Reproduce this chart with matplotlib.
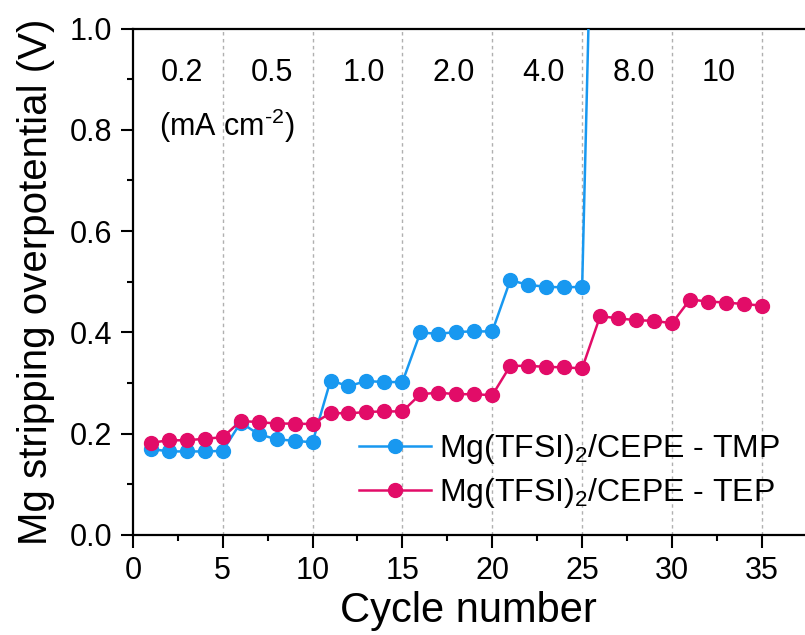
import numpy as np
import matplotlib
matplotlib.use("Agg")
import matplotlib.pyplot as plt
from matplotlib.ticker import MultipleLocator

plt.rcParams['font.family'] = ['Liberation Sans', 'DejaVu Sans']
plt.rcParams['mathtext.fontset'] = 'custom'
plt.rcParams['mathtext.rm'] = 'Liberation Sans'
plt.rcParams['mathtext.it'] = 'Liberation Sans:italic'
plt.rcParams['mathtext.bf'] = 'Liberation Sans:bold'

# stripping overpotential per cycle (V)
cycles_tmp = np.arange(1, 27)
tmp = [0.170, 0.165, 0.165, 0.165, 0.166,
       0.222, 0.199, 0.189, 0.186, 0.183,
       0.305, 0.294, 0.304, 0.302, 0.302,
       0.400, 0.397, 0.401, 0.402, 0.402,
       0.503, 0.494, 0.490, 0.489, 0.490,
       1.950]

cycles_tep = np.arange(1, 36)
tep = [0.182, 0.187, 0.187, 0.190, 0.193,
       0.225, 0.223, 0.220, 0.220, 0.219,
       0.241, 0.240, 0.243, 0.244, 0.244,
       0.278, 0.281, 0.278, 0.278, 0.276,
       0.334, 0.334, 0.332, 0.331, 0.329,
       0.432, 0.428, 0.424, 0.423, 0.418,
       0.465, 0.461, 0.459, 0.456, 0.453]

# current density of each 5-cycle step (mA cm-2)
densities = ['0.2', '0.5', '1.0', '2.0', '4.0', '8.0', '10']
density_x = [2.75, 7.75, 12.85, 17.85, 22.85, 27.9, 32.6]
step_edges = [5, 10, 15, 20, 25, 30, 35]

blue = '#1898F0'
pink = '#E20C68'

fig = plt.figure(figsize=(8.05, 6.35), dpi=100)
ax = fig.add_axes([0.165, 0.1575, 0.835, 0.7975])

for xe in step_edges:
    ax.axvline(xe, color='#b0b0b0', lw=1.0, ls=(0, (2.5, 2.5)), zorder=0)

ax.plot(cycles_tmp, tmp, '-o', color=blue, lw=1.8, ms=10,
        label='Mg(TFSI)$_{\\mathregular{2}}$/CEPE - TMP', zorder=3)
ax.plot(cycles_tep, tep, '-o', color=pink, lw=1.8, ms=10,
        label='Mg(TFSI)$_{\\mathregular{2}}$/CEPE - TEP', zorder=4)

for lab, xp in zip(densities, density_x):
    ax.text(xp, 0.912, lab, ha='center', va='center', fontsize=22)
ax.text(1.45, 0.808, '(mA cm$^{\\text{-2}}$)', ha='left', va='center', fontsize=22)

ax.set_xlim(0, 37.4)
ax.set_ylim(0, 1.0)
ax.xaxis.set_major_locator(MultipleLocator(5))
ax.xaxis.set_minor_locator(MultipleLocator(2.5))
ax.yaxis.set_major_locator(MultipleLocator(0.2))
ax.yaxis.set_minor_locator(MultipleLocator(0.1))
ax.set_xticks(np.arange(0, 36, 5))
ax.yaxis.set_major_formatter(plt.FuncFormatter(lambda v, p: f'{v:.1f}'))

ax.tick_params(which='major', direction='out', length=9, width=1.5, labelsize=22, pad=6)
ax.tick_params(which='minor', direction='out', length=4.5, width=1.5)
for side in ['left', 'bottom', 'top']:
    ax.spines[side].set_linewidth(1.6)
ax.spines['right'].set_visible(False)

ax.set_xlabel('Cycle number', fontsize=30, labelpad=4)
ax.set_ylabel('Mg stripping overpotential (V)', fontsize=29, labelpad=10)

ax.legend(loc='upper left', bbox_to_anchor=(0.313, 0.235), frameon=False,
          fontsize=23, handlelength=2.25, handletextpad=0.25,
          labelspacing=0.33, borderpad=0, markerscale=1.0)

fig.savefig('out.png', dpi=100)
